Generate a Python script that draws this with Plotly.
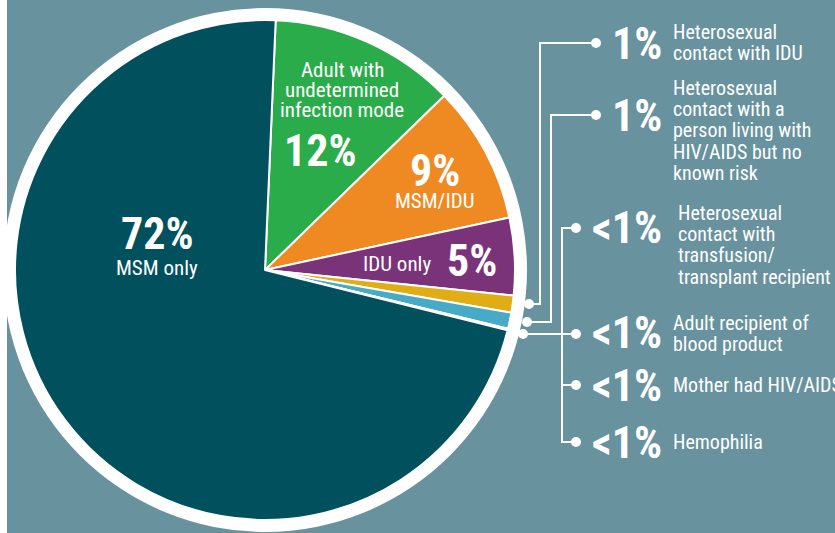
import plotly.graph_objects as go

W, H = 835, 533

# ---- data ----
categories = [
    "Adult with undetermined infection mode",
    "MSM/IDU",
    "IDU only",
    "Heterosexual contact with IDU",
    "Heterosexual contact with a person living with HIV/AIDS but no known risk",
    "Heterosexual contact with transfusion/transplant recipient",
    "Adult recipient of blood product",
    "Mother had HIV/AIDS",
    "Hemophilia",
    "MSM only",
]
values = [12.05, 8.9, 5.0, 1.1, 1.05, 0.03, 0.03, 0.02, 0.02, 71.8]
pct_labels = ["12%", "9%", "5%", "1%", "1%", "<1%", "<1%", "<1%", "<1%", "72%"]
colors = ["#2aac4b", "#ee8a21", "#7a3379", "#e1ad14", "#47abc8",
          "#47abc8", "#47abc8", "#47abc8", "#47abc8", "#01505e"]

# side legend descriptions (one list entry per printed line)
side_desc = [
    ["Heterosexual", "contact with IDU"],
    ["Heterosexual", "contact with a", "person living with", "HIV/AIDS but no", "known risk"],
    ["Heterosexual", "contact with", "transfusion/", "transplant recipient"],
    ["Adult recipient of", "blood product"],
    ["Mother had HIV/AIDS"],
    ["Hemophilia"],
]
side_pct = [pct_labels[3], pct_labels[4], pct_labels[5], pct_labels[6], pct_labels[7], pct_labels[8]]

BG = "#68929e"
FONT = "Liberation Sans Narrow, Roboto Condensed, Arial Narrow, Roboto, sans-serif"
NUM = 44
TXT_IN = 21
TXT_SIDE = 20

def px(x):
    return x / W

def py(y):
    return 1 - y / H

CX, CY, R = 265, 270, 250

fig = go.Figure()
fig.add_trace(go.Pie(
    labels=categories, values=values, sort=False, direction="clockwise",
    rotation=2.45, textinfo="none", hoverinfo="label+percent",
    marker=dict(colors=colors, line=dict(color="white", width=2)),
    domain=dict(x=[px(CX - R), px(CX + R)], y=[py(CY + R), py(CY - R)]),
    showlegend=False,
))

shapes = []
# background panel
shapes.append(dict(type="rect", xref="paper", yref="paper", x0=px(7), x1=1, y0=0, y1=1,
                   fillcolor=BG, line=dict(width=0), layer="below"))
# white ring around pie
RR = 262
shapes.append(dict(type="circle", xref="paper", yref="paper",
                   x0=px(CX - RR), x1=px(CX + RR), y0=py(CY + RR), y1=py(CY - RR),
                   fillcolor="white", line=dict(width=0), layer="below"))

def path(points):
    d = "M " + " L ".join(f"{px(x):.5f},{py(y):.5f}" for x, y in points)
    return dict(type="path", xref="paper", yref="paper", path=d,
                line=dict(color="white", width=2))

shapes.append(path([(529, 304), (540, 304), (540, 43), (596, 43)]))
shapes.append(path([(527, 322), (551, 322), (551, 115), (596, 115)]))
shapes.append(path([(523, 334), (576, 334)]))
shapes.append(path([(576, 228), (562, 228), (562, 442), (576, 442)]))
shapes.append(path([(562, 385), (576, 385)]))

def dot(x, y, r=5):
    return dict(type="circle", xref="paper", yref="paper",
                x0=px(x - r), x1=px(x + r), y0=py(y + r), y1=py(y - r),
                fillcolor="white", line=dict(width=0))

for (x, y) in [(529, 304), (527, 322), (523, 334), (596, 43), (596, 115),
               (576, 228), (576, 334), (576, 385), (576, 442)]:
    shapes.append(dot(x, y))

ann = []

def text(x, y, s, size, bold=False, xanchor="center"):
    ann.append(dict(x=px(x), y=py(y), xref="paper", yref="paper", showarrow=False,
                    text=f"<b>{s}</b>" if bold else s, xanchor=xanchor, yanchor="middle",
                    font=dict(family=FONT, size=size, color="white")))

# inside labels
for i, line in enumerate(["Adult with", "undetermined", "infection mode"]):
    text(342, 70 + 20 * i, line, TXT_IN)
text(320, 151, pct_labels[0], NUM, bold=True)
text(435, 171, pct_labels[1], NUM, bold=True)
text(434, 201, categories[1], TXT_IN)
text(397, 264, categories[2], TXT_IN)
text(472, 261, pct_labels[2], NUM, bold=True)
text(157, 234, pct_labels[9], NUM, bold=True)
text(157, 268, categories[9], TXT_IN)

# side labels
pct_pos = [(664, 44), (664, 116), (664, 228), (664, 333), (664, 386), (664, 443)]
desc_start = [(671, 32), (671, 88), (676, 213), (671, 323), (671, 385), (671, 442)]
for k in range(6):
    text(pct_pos[k][0], pct_pos[k][1], side_pct[k], NUM, bold=True, xanchor="right")
    x0, y0 = desc_start[k]
    for j, line in enumerate(side_desc[k]):
        text(x0, y0 + 21.2 * j, line, TXT_SIDE, xanchor="left")

fig.update_layout(width=W, height=H, margin=dict(l=0, r=0, t=0, b=0),
                  paper_bgcolor="white", shapes=shapes, annotations=ann)
fig.write_html("out.html", config={"displayModeBar": False},
               post_script="document.body.style.margin='0';document.body.style.overflow='hidden';")
